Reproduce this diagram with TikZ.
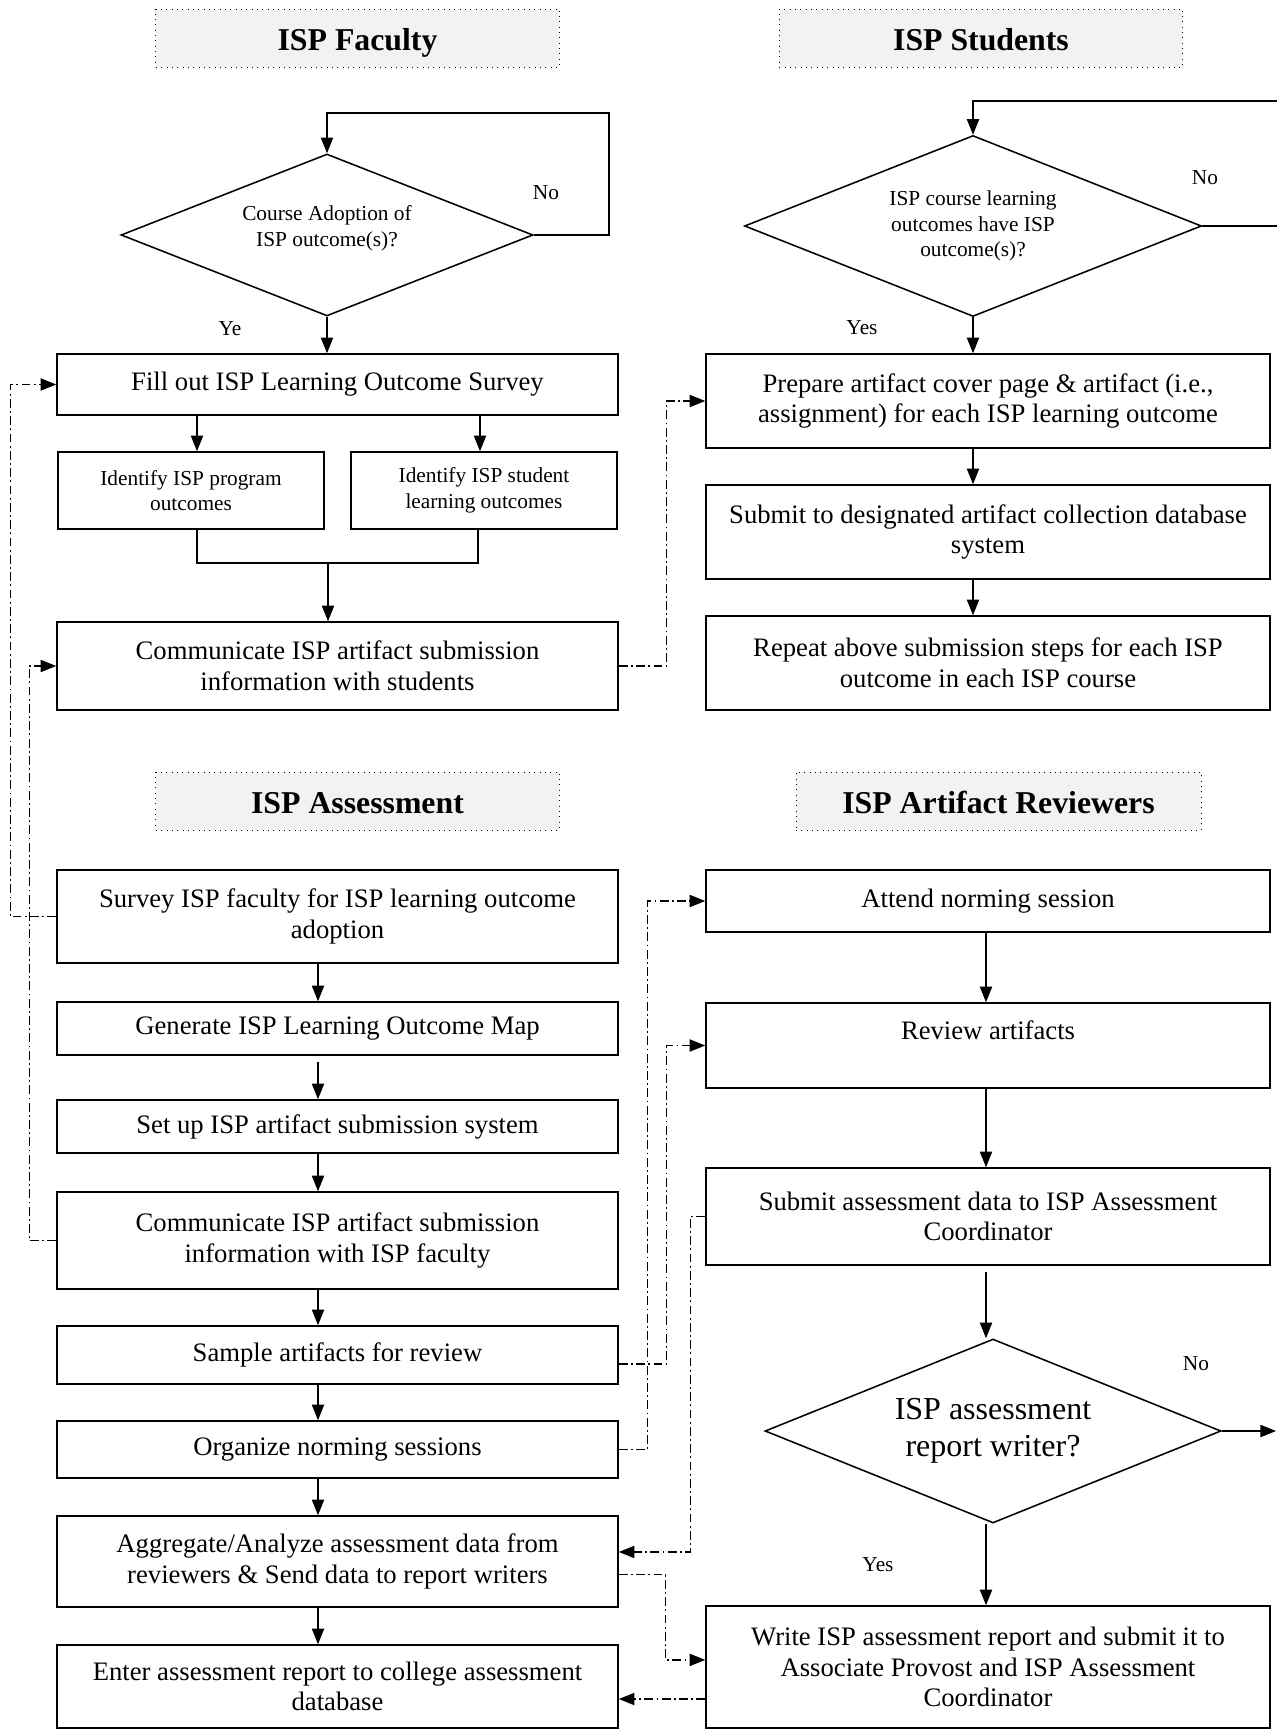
\documentclass[tikz,border=0pt]{standalone}
\usepackage{fontspec}
\setmainfont{Liberation Serif}
\usetikzlibrary{shapes.geometric,arrows.meta}

\newcommand{\txtmain}{\fontsize{12}{13.8}\selectfont}
\newcommand{\txtsmall}{\fontsize{9.6}{11.6}\selectfont}
\newcommand{\txthead}{\fontsize{14.3}{16}\selectfont\bfseries}
\newcommand{\txtbig}{\fontsize{14.4}{16.6}\selectfont}

\tikzset{
  box/.style={draw, line width=0.7pt, align=center, inner sep=0pt, font=\txtmain},
  lbox/.style={box, minimum width=252.5pt},
  rbox/.style={box, minimum width=253.8pt},
  sbox/.style={box, minimum width=119.7pt, minimum height=34.65pt, font=\txtsmall},
  lane/.style={draw, dotted, fill=gray!10, minimum width=181.5pt, minimum height=26.1pt,
    text height=13pt, text depth=1.5pt, font=\txthead},
  decision/.style={diamond, draw, line width=0.7pt, aspect=2.5, inner sep=0pt, align=center},
  flow/.style={line width=0.55pt, -{Triangle[length=7pt,width=5.5pt]}},
  link/.style={flow, dash pattern=on 4pt off 1.5pt on 0.8pt off 1.5pt},
  lbl/.style={font=\txtsmall, inner sep=0pt}
}

\begin{document}
\begin{tikzpicture}[x=0.45pt, y=-0.45pt]
  \useasboundingbox (0,0) rectangle (1276,1731);

  % faculty
  \begin{scope}
    \node[lane] (lanefac) at (357.5,38) {ISP Faculty};
    \node[decision, font=\txtsmall, text depth=8.4pt, minimum width=185.4pt, minimum height=72.9pt] (adopt) at (327,235) {Course Adoption of\\ISP outcome(s)?};
    \node[lbox, minimum height=27.45pt] (fill) at (337.5,384.5) {Fill out ISP Learning Outcome Survey};
    \node[sbox] (idprog) at (191,490.5) {Identify ISP program\\outcomes};
    \node[sbox] (idstud) at (484,490.5) {Identify ISP student\\learning outcomes};
    \node[lbox, minimum height=39.6pt] (commstud) at (337.5,666) {Communicate ISP artifact submission\\information with students};
    \node[lbl] (adoptno) at (546,193) {No};
    \node[lbl] (adoptyes) at (230,329) {Ye};
    \coordinate (adoptloop) at (609,113);
    \coordinate (progin) at ([xshift=2.7pt]idprog.north);
    \coordinate (studin) at ([xshift=-1.8pt]idstud.north);
    \coordinate (progout) at ([xshift=2.7pt]idprog.south);
    \coordinate (studout) at ([xshift=-2.7pt]idstud.south);
    \coordinate (merge) at (328,563);
    \draw[flow] (adopt.east) -| (adoptloop) -| (adopt.north);
    \draw[flow] (adopt.south) -- (adopt.south |- fill.north);
    \draw[flow] (progin |- fill.south) -- (progin);
    \draw[flow] (studin |- fill.south) -- (studin);
    \draw[line width=0.55pt] (progout) |- (merge) -| (studout);
    \draw[flow] (merge) -- (merge |- commstud.north);
  \end{scope}

  % students
  \begin{scope}
    \node[lane] (lanestud) at (981,38) {ISP Students};
    \node[decision, font=\txtsmall, minimum width=205.65pt, minimum height=81.45pt] (haveout) at (973,226) {ISP course learning\\outcomes have ISP\\outcome(s)?};
    \node[rbox, minimum height=42.3pt] (prepare) at (988,401) {Prepare artifact cover page \& artifact (i.e.,\\assignment) for each ISP learning outcome};
    \node[rbox, minimum height=42.3pt] (submitdb) at (988,532) {Submit to designated artifact collection database\\system};
    \node[rbox, minimum height=42.3pt] (repeat) at (988,663) {Repeat above submission steps for each ISP\\outcome in each ISP course};
    \node[lbl] (haveno) at (1205,178) {No};
    \node[lbl] (haveyes) at (862,328) {Yes};
    \coordinate (haveloop) at (1300,101);
    \draw[flow] (haveout.east) -| (haveloop) -| (haveout.north);
    \draw[flow] (haveout.south) -- (haveout.south |- prepare.north);
    \draw[flow] (prepare.south -| haveout.south) -- (submitdb.north -| haveout.south);
    \draw[flow] (submitdb.south -| haveout.south) -- (repeat.north -| haveout.south);
  \end{scope}

  % assessment
  \begin{scope}
    \node[lane] (laneassess) at (357.5,801) {ISP Assessment};
    \node[lbox, minimum height=41.85pt] (survey) at (337.5,916.5) {Survey ISP faculty for ISP learning outcome\\adoption};
    \node[lbox, minimum height=23.85pt] (genmap) at (337.5,1028.5) {Generate ISP Learning Outcome Map};
    \node[lbox, minimum height=23.85pt] (setup) at (337.5,1126.5) {Set up ISP artifact submission system};
    \node[lbox, minimum height=43.65pt] (commfac) at (337.5,1240.5) {Communicate ISP artifact submission\\information with ISP faculty};
    \node[lbox, minimum height=26.1pt] (sample) at (337.5,1355) {Sample artifacts for review};
    \node[lbox, minimum height=25.65pt] (organize) at (337.5,1449.5) {Organize norming sessions};
    \node[lbox, minimum height=40.95pt] (aggregate) at (337.5,1561.5) {Aggregate/Analyze assessment data from\\reviewers \& Send data to report writers};
    \node[lbox, minimum height=37.35pt] (enter) at (337.5,1686.5) {Enter assessment report to college assessment\\database};
    \coordinate (acol) at (318,0);
    \foreach \a/\b/\s in {survey/genmap/0, genmap/setup/3, setup/commfac/0, commfac/sample/0,
                          sample/organize/0, organize/aggregate/0, aggregate/enter/0}
      \draw[flow, shorten <=\s pt] (\a.south -| acol) -- (\b.north -| acol);
  \end{scope}

  % reviewers
  \begin{scope}
    \node[lane, minimum width=182.25pt] (lanerev) at (998.5,801) {ISP Artifact Reviewers};
    \node[rbox, minimum height=27.9pt] (attend) at (988,901) {Attend norming session};
    \node[rbox, minimum height=38.25pt] (review) at (988,1045.5) {Review artifacts\\~};
    \node[rbox, minimum height=43.65pt] (submitdata) at (988,1216.5) {Submit assessment data to ISP Assessment\\Coordinator};
    \node[decision, font=\txtbig, minimum width=205.2pt, minimum height=82.8pt] (writer) at (993,1431) {ISP assessment\\report writer?};
    \node[rbox, minimum height=54.9pt] (write) at (988,1667) {Write ISP assessment report and submit it to\\Associate Provost and ISP Assessment\\Coordinator};
    \node[lbl] (writerno) at (1196,1364) {No};
    \node[lbl] (writeryes) at (878,1565) {Yes};
    \coordinate (rcol) at (986,0);
    \coordinate (writerout) at (1276,1431);
    \draw[flow] (attend.south -| rcol) -- (review.north -| rcol);
    \draw[flow] (review.south -| rcol) -- (submitdata.north -| rcol);
    \draw[flow, shorten <=2.7pt] (submitdata.south -| rcol) -- (writer.north -| rcol);
    \draw[flow] (writer.south -| rcol) -- (write.north -| rcol);
    \draw[flow] (writer.east) -- (writerout);
  \end{scope}

  % cross links
  \draw[link] (survey.west) -- ++(-46,0) |- (fill.west);
  \draw[link] (commfac.west) -- ++(-27,0) |- (commstud.west);
  \draw[link] (commstud.east) -- ++(48,0) |- (prepare.west);
  \draw[link] ([yshift=-4pt]sample.east) -- ++(48,0) |- (review.west);
  \draw[link] (organize.east) -- ++(29,0) |- (attend.west);
  \draw[link] (submitdata.west) -- ++(-15,0) |- ([yshift=4.3pt]aggregate.east);
  \draw[link] ([yshift=-6pt]aggregate.east) -- ++(47,0) |- ([yshift=3.2pt]write.west);
  \coordinate (writeback) at ([yshift=-14.4pt]write.west);
  \draw[link] (writeback) -- (writeback -| enter.east);
\end{tikzpicture}
\end{document}
